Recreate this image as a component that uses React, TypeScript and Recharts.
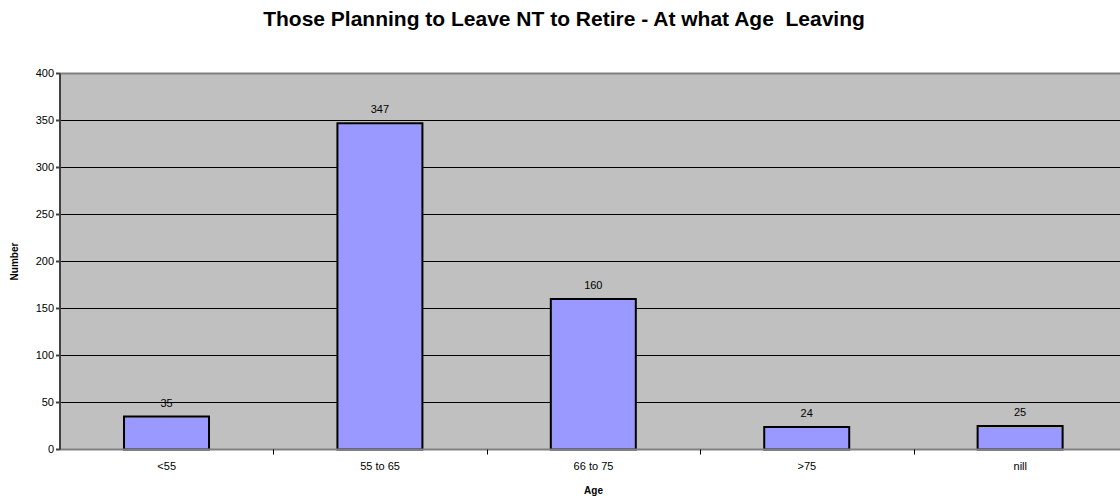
import React from "react";
import {
  BarChart,
  Bar,
  XAxis,
  YAxis,
  CartesianGrid,
  LabelList,
  ReferenceLine,
  Label,
} from "recharts";

const categories = ["<55", "55 to 65", "66 to 75", ">75", "nill"];
const counts = [35, 347, 160, 24, 25];
const yTicks = [0, 50, 100, 150, 200, 250, 300, 350, 400];

const data = categories.map((age, i) => ({ age, value: counts[i] }));

// chart sizing (half-pixel top so the 1px grid lines land crisp)
const width = 1135;
const height = 498;
const left = 60;
const right = 8;
const band = (width - left - right) / categories.length;

const font = "'Liberation Sans', Arial, sans-serif";

// x tick: label under the centre, tick mark on the category boundary (Excel style)
function AgeTick(props: any) {
  const { x, y, payload, index } = props;
  return (
    <g>
      <text
        x={x}
        y={y + 12}
        textAnchor="middle"
        fontSize={11}
        fontFamily={font}
        fill="#000"
      >
        {payload.value}
      </text>
      {index < categories.length - 1 && (
        <line
          x1={Math.round(x + band / 2) + 0.5}
          x2={Math.round(x + band / 2) + 0.5}
          y1={y - 8}
          y2={y - 3}
          stroke="#000"
        />
      )}
    </g>
  );
}

export default function App() {
  return (
    <div
      style={{
        position: "absolute",
        left: 0,
        top: 0,
        width: 1120,
        height: 498,
        overflow: "hidden",
        background: "#fff",
        fontFamily: font,
      }}
    >
      <div
        style={{
          position: "absolute",
          top: 7,
          left: 0,
          width: 1128,
          textAlign: "center",
          fontSize: 21,
          lineHeight: "24px",
          fontWeight: "bold",
          whiteSpace: "pre",
        }}
      >
        {"Those Planning to Leave NT to Retire - At what Age  Leaving"}
      </div>
      <BarChart
        width={width}
        height={height}
        data={data}
        margin={{ top: 73.5, right: right, left: 0, bottom: 0 }}
        barCategoryGap="30%"
      >
        <CartesianGrid
          vertical={false}
          stroke="#000"
          fill="#c0c0c0"
          fillOpacity={1}
        />
        <ReferenceLine y={400} stroke="#808080" strokeWidth={2} />
        <XAxis
          dataKey="age"
          height={48.5}
          tickLine={false}
          stroke="#808080"
          strokeWidth={2}
          tick={<AgeTick />}
          interval={0}
        >
          <Label
            value="Age"
            position="insideBottom"
            offset={4}
            fontSize={10}
            fontWeight="bold"
            fontFamily={font}
            fill="#000"
          />
        </XAxis>
        <YAxis
          width={left}
          domain={[0, 400]}
          ticks={yTicks}
          interval={0}
          stroke="#404040"
          strokeWidth={2}
          tickSize={4}
          tick={{ fontSize: 11, fontFamily: font, fill: "#000" }}
        >
          <Label
            value="Number"
            angle={-90}
            position="insideLeft"
            offset={14}
            style={{ textAnchor: "middle" }}
            fontSize={10}
            fontWeight="bold"
            fontFamily={font}
            fill="#000"
          />
        </YAxis>
        <Bar
          dataKey="value"
          fill="#9999ff"
          stroke="#000"
          strokeWidth={2}
          isAnimationActive={false}
        >
          <LabelList
            dataKey="value"
            position="top"
            offset={10}
            fontSize={11}
            fontFamily={font}
            fill="#000"
          />
        </Bar>
      </BarChart>
    </div>
  );
}
